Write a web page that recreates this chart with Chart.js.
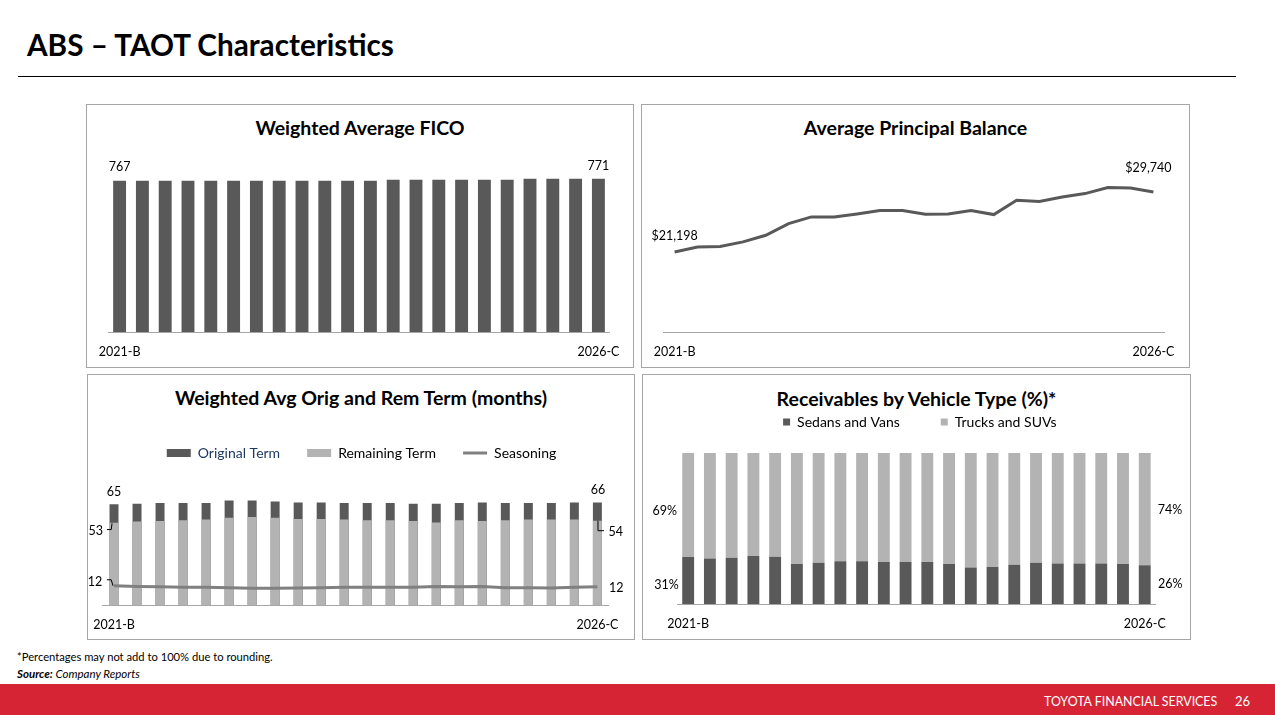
<!DOCTYPE html>
<html>
<head>
<meta charset="utf-8">
<script src="https://cdn.jsdelivr.net/npm/chart.js@4.4.1/dist/chart.umd.min.js"></script>
<style>
html,body{margin:0;padding:0;}
body{width:1275px;height:715px;position:relative;overflow:hidden;background:#fff;font-family:Lato,'Open Sans',sans-serif;color:#000;}
.abs{position:absolute;white-space:nowrap;}
#pageTitle{left:27px;top:30px;font-size:29.7px;line-height:30px;font-weight:700;}
#rule{left:18px;top:76px;width:1218px;height:1px;background:#000;}
.panel{position:absolute;border:1px solid #a6a6a6;box-sizing:border-box;}
.ctitle{position:absolute;font-weight:700;font-size:19.5px;line-height:19px;text-align:center;white-space:nowrap;}
canvas{position:absolute;}
#note1{left:17px;top:651px;font-size:11.2px;line-height:11px;}
#note2{left:17px;top:668px;font-size:11.5px;line-height:11px;font-style:italic;}
#band{left:0;top:684px;width:1275px;height:31px;background:#d72435;}
#brand{left:1044px;top:695px;font-size:12.4px;line-height:13px;color:#fff;}
#pnum{left:1235px;top:694px;font-size:13px;line-height:14px;color:#fff;}
</style>
</head>
<body>
<div id="pageTitle" class="abs">ABS – TAOT Characteristics</div>
<div id="rule" class="abs"></div>

<div class="panel" style="left:86px;top:104px;width:548px;height:264px;"></div>
<div class="panel" style="left:641px;top:104px;width:549px;height:264px;"></div>
<div class="panel" style="left:87px;top:374px;width:548px;height:266px;"></div>
<div class="panel" style="left:642px;top:374px;width:549px;height:266px;"></div>

<div class="ctitle" style="left:86px;top:118px;width:548px;">Weighted Average FICO</div>
<div class="ctitle" style="left:641px;top:118px;width:549px;">Average Principal Balance</div>
<div class="ctitle" style="left:87px;top:388px;width:548px;">Weighted Avg Orig and Rem Term (months)</div>
<div class="ctitle" style="left:642px;top:389px;width:549px;">Receivables by Vehicle Type (%)*</div>

<canvas id="cFico" width="548" height="264" style="left:86px;top:104px;width:548px;height:264px;"></canvas>
<canvas id="cBal" width="548" height="264" style="left:641px;top:104px;width:548px;height:264px;"></canvas>
<canvas id="cTerm" width="548" height="266" style="left:86px;top:374px;width:548px;height:266px;"></canvas>
<canvas id="cVeh" width="548" height="266" style="left:642px;top:374px;width:548px;height:266px;"></canvas>

<div id="note1" class="abs">*Percentages may not add to 100% due to rounding.</div>
<div id="note2" class="abs"><b>Source:</b> Company Reports</div>
<div id="band" class="abs"></div>
<div id="brand" class="abs">TOYOTA FINANCIAL SERVICES</div>
<div id="pnum" class="abs">26</div>

<script>
// ---------------- data ----------------
const deals = ['2021-B','2021-C','2021-D','2022-A','2022-B','2022-C','2022-D','2023-A','2023-B','2023-C','2023-D',
               '2024-A','2024-B','2024-C','2024-D','2025-A','2025-B','2025-C','2025-D','2026-A','2026-B','2026-C'];
const axisEndLabels = ['2021-B', '2026-C'];
const ficoScores = [767,767,767,767,767,767,767,767,767,767,767,767,769,769,769,769,769,769,771,771,771,771];
const avgPrincipal = [21198,21910,21957,22622,23571,25231,26180,26180,26607,27082,27082,26560,26607,27082,26512,28553,28363,29027,29502,30356,30308,29740];
const originalTerm = [65.0,65.4,65.8,65.8,65.8,67.5,67.5,66.7,66.2,66.2,65.8,65.8,65.8,65.4,65.4,65.8,66.2,65.8,65.8,65.8,66.2,66.2];
const remainingTerm = [53.0,53.8,54.2,54.6,55.1,56.3,56.8,56.3,55.5,55.5,55.1,54.6,54.6,54.2,53.3,54.6,54.2,54.6,55.1,55.1,55.1,54.4];
const seasoning = [12.4,12.0,11.8,11.4,11.4,11.2,10.8,10.8,11.0,11.2,11.4,11.4,11.4,11.4,12.0,11.8,12.0,11.2,11.2,11.0,11.4,11.8];
const sedansVans = [31.1,30.2,30.7,31.8,31.3,26.5,27.4,28.3,28.3,27.8,27.8,27.8,26.5,24.1,24.5,26.0,27.4,26.9,26.9,26.9,26.5,25.6];
const trucksSuvs = [68.9,69.8,69.3,68.2,68.7,73.5,72.6,71.7,71.7,72.2,72.2,72.2,73.5,75.9,75.5,74.0,72.6,73.1,73.1,73.1,73.5,74.4];

// ---------------- style ----------------
const FONT = "Lato, 'Open Sans', sans-serif";
const DARK = '#595959', LIGHT = '#b3b3b3', SEASON = '#808080', AXIS = '#a6a6a6';
Chart.defaults.font.family = FONT;
Chart.defaults.color = '#000';
Chart.defaults.animation = false;
Chart.defaults.plugins.tooltip.enabled = false;

const fmtInt = v => String(Math.round(v));
const fmtUsd = v => '$' + Math.round(v).toLocaleString('en-US');
const fmtPct = v => Math.round(v) + '%';

function xAxis(height, tick, stacked) {
  return {
    type: 'category', offset: true, stacked: !!stacked,
    grid: { display: false, drawTicks: true, tickLength: tick },
    border: { display: true, color: AXIS, width: 1 },
    ticks: {
      autoSkip: false, maxRotation: 0, minRotation: 0, padding: 0,
      font: { size: 12.5, family: FONT }, color: '#000',
      callback(value) { const l = this.getLabelForValue(value); return axisEndLabels.includes(l) ? l : ''; }
    },
    afterFit(scale) { scale.height = height; }
  };
}

// invisible value axis kept on the right (reserves a little width so the legend sits where it should)
function hiddenRightY(min, max, width, stacked) {
  return {
    display: true, position: 'right', min, max, stacked: !!stacked,
    ticks: { display: false }, grid: { display: false, drawTicks: false }, border: { display: false },
    afterFit(scale) { scale.width = width; }
  };
}

// labels at first / last marks, positioned from the library's elements
function endLabels(specs) {
  return {
    id: 'endLabels',
    afterDatasetsDraw(chart) {
      const ctx = chart.ctx;
      ctx.save();
      specs.forEach(s => {
        const el = chart.getDatasetMeta(s.ds).data[s.i];
        const v = chart.data.datasets[s.ds].data[s.i];
        const p = el.getProps(['x', 'y', 'base', 'width'], true);
        let ax = p.x, ay = p.y;
        if (s.edge === 'left') ax = p.x - p.width / 2;
        if (s.edge === 'right') ax = p.x + p.width / 2;
        if (s.mid) ay = (p.y + p.base) / 2;
        ctx.font = '12.5px ' + FONT;
        ctx.fillStyle = '#000';
        ctx.textAlign = s.align || 'center';
        ctx.textBaseline = 'middle';
        ctx.fillText(s.fmt(v), ax + (s.dx || 0), ay + (s.dy || 0));
        if (s.leader) {
          ctx.beginPath();
          ctx.strokeStyle = '#000';
          ctx.lineWidth = 1;
          s.leader.forEach(([lx, ly], k) => k ? ctx.lineTo(ax + lx, ay + ly) : ctx.moveTo(ax + lx, ay + ly));
          ctx.stroke();
        }
      });
      ctx.restore();
    }
  };
}

// ---------------- Weighted Average FICO ----------------
new Chart(document.getElementById('cFico'), {
  type: 'bar',
  data: { labels: deals, datasets: [{ label: 'Weighted Average FICO', data: ficoScores, backgroundColor: DARK,
          borderWidth: 0, barPercentage: 0.566, categoryPercentage: 1 }] },
  options: {
    responsive: false,
    layout: { padding: { left: 22.2, right: 24.2, top: 70.5, bottom: 6 } },
    plugins: { legend: { display: false } },
    scales: { x: xAxis(30, 12), y: { display: false, min: 450, max: 780 } }
  },
  plugins: [endLabels([
    { ds: 0, i: 0, fmt: fmtInt, dy: -14 },
    { ds: 0, i: 21, fmt: fmtInt, dy: -13 }
  ])]
});

// ---------------- Average Principal Balance ----------------
new Chart(document.getElementById('cBal'), {
  type: 'line',
  data: { labels: deals, datasets: [{ label: 'Average Principal Balance', data: avgPrincipal, borderColor: DARK,
          backgroundColor: DARK, borderWidth: 3, pointRadius: 0, tension: 0, fill: false }] },
  options: {
    responsive: false,
    layout: { padding: { left: 22.2, right: 24.2, top: 63.6, bottom: 6 } },
    plugins: { legend: { display: false } },
    scales: { x: xAxis(30, 12), y: { display: false, min: 9800, max: 33200 } }
  },
  plugins: [endLabels([
    { ds: 0, i: 0, fmt: fmtUsd, dy: -16 },
    { ds: 0, i: 21, fmt: fmtUsd, dx: -5, dy: -24 }
  ])]
});

// ---------------- Weighted Avg Orig and Rem Term ----------------
new Chart(document.getElementById('cTerm'), {
  type: 'bar',
  data: {
    labels: deals,
    datasets: [
      { label: 'Original Term', data: originalTerm, backgroundColor: DARK, borderWidth: 0,
        barPercentage: 0.39, categoryPercentage: 1, order: 2 },
      { label: 'Remaining Term', data: remainingTerm, backgroundColor: LIGHT, borderWidth: 0,
        barPercentage: 0.39, categoryPercentage: 1, order: 1 },
      { type: 'line', label: 'Seasoning', data: seasoning, borderColor: SEASON, backgroundColor: SEASON,
        borderWidth: 3, pointRadius: 0, tension: 0, fill: false, order: 0 }
    ]
  },
  options: {
    responsive: false,
    layout: { padding: { left: 16.5, right: 13.5, top: 45, bottom: 6 } },
    plugins: {
      legend: {
        display: true, position: 'top', align: 'center',
        labels: {
          usePointStyle: true, pointStyleWidth: 24, boxWidth: 24, boxHeight: 8, padding: 27,
          font: { size: 14, family: FONT }, color: '#000',
          sort: (a, b) => a.datasetIndex - b.datasetIndex,
          generateLabels(chart) {
            const items = Chart.defaults.plugins.legend.labels.generateLabels(chart);
            items.forEach(it => {
              const isLine = it.datasetIndex === 2;
              it.pointStyle = isLine ? 'line' : 'rect';
              it.lineWidth = isLine ? 3 : 0;
              it.fontColor = it.datasetIndex === 0 ? '#1f3864' : '#000';
            });
            return items;
          }
        }
      }
    },
    scales: { x: xAxis(29, 12, true), y: hiddenRightY(0, 87.1, 11.6, false) }
  },
  plugins: [endLabels([
    { ds: 0, i: 0, fmt: fmtInt, dy: -12.6 },
    { ds: 0, i: 21, fmt: fmtInt, dx: 0.6, dy: -12.4 },
    { ds: 1, i: 0, fmt: fmtInt, edge: 'left', align: 'right', dx: -6.6, dy: 8.4,
      leader: [[-2.6, 6.7], [1.7, 6.7], [2.5, 0.5]] },
    { ds: 1, i: 21, fmt: fmtInt, edge: 'right', align: 'left', dx: 6.6, dy: 11.6,
      leader: [[-3.9, 0], [-3.9, 10], [2.1, 10]] },
    { ds: 2, i: 0, fmt: fmtInt, align: 'right', dx: -11.8, dy: -4.3,
      leader: [[-7.1, -6], [-2.8, -6], [-1, 0]] },
    { ds: 2, i: 21, fmt: fmtInt, align: 'left', dx: 11.6, dy: 1.6 }
  ])]
});

// ---------------- Receivables by Vehicle Type ----------------
new Chart(document.getElementById('cVeh'), {
  type: 'bar',
  data: {
    labels: deals,
    datasets: [
      { label: 'Sedans and Vans', data: sedansVans, backgroundColor: DARK, borderWidth: 0,
        barPercentage: 0.547, categoryPercentage: 1 },
      { label: 'Trucks and SUVs', data: trucksSuvs, backgroundColor: LIGHT, borderWidth: 0,
        barPercentage: 0.547, categoryPercentage: 1 }
    ]
  },
  options: {
    responsive: false,
    layout: { padding: { left: 35.3, right: 27.7, top: 0, bottom: 6 } },
    plugins: {
      legend: {
        display: true, position: 'top', align: 'center',
        labels: { boxWidth: 7, boxHeight: 7, padding: 41, font: { size: 14, family: FONT }, color: '#000' }
      }
    },
    scales: { x: xAxis(30, 12, true), y: hiddenRightY(0, 109.27, 6.7, true) }
  },
  plugins: [endLabels([
    { ds: 1, i: 0, fmt: fmtPct, edge: 'left', mid: true, align: 'right', dx: -5.3, dy: 5.7 },
    { ds: 0, i: 0, fmt: fmtPct, edge: 'left', mid: true, align: 'right', dx: -3.5, dy: 4.2 },
    { ds: 1, i: 21, fmt: fmtPct, edge: 'right', mid: true, align: 'left', dx: 7, dy: 0.8 },
    { ds: 0, i: 21, fmt: fmtPct, edge: 'right', mid: true, align: 'left', dx: 7.4, dy: -0.7 }
  ])]
});
</script>
</body>
</html>
